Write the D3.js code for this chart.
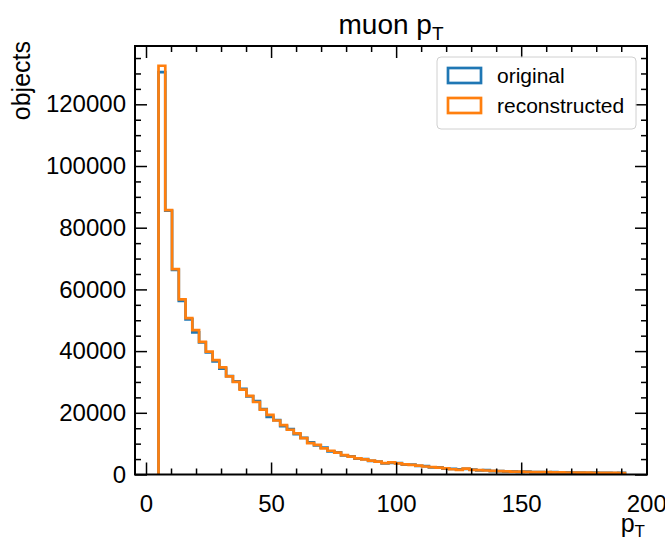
<!DOCTYPE html>
<html>
<head>
<meta charset="utf-8">
<script src="https://cdn.jsdelivr.net/npm/d3@7"></script>
<style>
  body { margin: 0; background: #fff; }
  svg text { font-family: "Liberation Sans", Arial, sans-serif; fill: #000; }
</style>
</head>
<body>
<div id="chart"></div>
<script>
// histogram bins (pT), first edge and width
const bin_start = 5,
  bin_width = 2.703;

// counts per bin
const original = [130400, 85500, 66300, 56300, 50300, 46100, 42800, 39600, 36700, 34300,
  31900, 30200, 27800, 25300, 23800, 21200, 18700, 17600, 15700, 14700,
  13100, 11900, 10400, 9400, 8700, 7500, 7200, 6200, 5900, 5100,
  5000, 4400, 4200, 3600, 3800, 3700, 3200, 3200, 2800, 2700,
  2300, 2300, 1900, 1800, 1700, 1800, 1600, 1300, 1400, 1100,
  1100, 950, 1000, 850, 900, 750, 800, 700, 750, 650,
  700, 600, 650, 550, 600, 500, 550, 450, 500];

const reconstructed = [132500, 85700, 66600, 56800, 50700, 46800, 43000, 39800, 37100, 34700,
  31800, 30000, 27500, 25500, 23500, 21000, 19300, 17500, 16000, 14500,
  13300, 11800, 10200, 9600, 8500, 7700, 7100, 6300, 5800, 5250,
  4900, 4500, 4150, 3700, 3900, 3600, 3300, 3100, 2900, 2600,
  2400, 2200, 2000, 1700, 1500, 1900, 1500, 1400, 1300, 1200,
  1100, 1000, 950, 900, 850, 800, 800, 750, 700, 700,
  650, 650, 600, 600, 550, 550, 500, 500, 450];

const series_names = ["original", "reconstructed"];
const series_colors = ["#1f77b4", "#ff7f0e"];
const x_ticks = [0, 50, 100, 150, 200];
const y_ticks = [0, 20000, 40000, 60000, 80000, 100000, 120000];

const margin = {top: 46, right: 18, bottom: 67.5, left: 135},
  width = 665 - margin.left - margin.right,
  height = 542 - margin.top - margin.bottom;

var svg = d3.select("#chart")
  .append("svg")
    .attr("width", 665)
    .attr("height", 542)
  .append("g")
    .attr("transform", "translate(" + margin.left + "," + margin.top + ")");

var x = d3.scaleLinear()
  .domain([-4.4, 200.3])
  .range([0, width]);

var y = d3.scaleLinear()
  .domain([0, 138900])
  .range([height, 0]);

// step outline like histtype='step'
var step_points = function(counts) {
  var pts = [[bin_start, 0]];
  counts.forEach(function(c, i) {
    pts.push([bin_start + i * bin_width, c]);
    pts.push([bin_start + (i + 1) * bin_width, c]);
  });
  pts.push([bin_start + counts.length * bin_width, 0]);
  return pts;
};

var line = d3.line()
  .x(function(d) { return x(d[0]); })
  .y(function(d) { return y(d[1]); });

[original, reconstructed].forEach(function(counts, i) {
  svg.append("path")
    .attr("d", line(step_points(counts)))
    .attr("fill", "none")
    .attr("stroke", series_colors[i])
    .attr("stroke-width", 2.7)
    .attr("stroke-linejoin", "miter");
});

// minor tick positions
var x_minor = d3.range(0, 201, 10).filter(function(v) { return v % 50 != 0; });
var y_minor = d3.range(0, 138001, 5000).filter(function(v) { return v % 20000 != 0; });

var style_axis = function(g, font) {
  g.select(".domain").remove();
  g.selectAll("line").attr("stroke", "#000").attr("stroke-width", 1.5);
  g.selectAll("text").style("font-size", font + "px").attr("fill", "#000");
};

// bottom
svg.append("g")
  .attr("transform", "translate(0," + height + ")")
  .call(d3.axisBottom(x).tickValues(x_ticks).tickSize(-12).tickPadding(20).tickFormat(d3.format("d")))
  .call(style_axis, 24);
svg.append("g")
  .attr("transform", "translate(0," + height + ")")
  .call(d3.axisBottom(x).tickValues(x_minor).tickSize(-6).tickFormat(""))
  .call(style_axis, 24);
// top
svg.append("g")
  .call(d3.axisTop(x).tickValues(x_ticks).tickSize(-12).tickFormat(""))
  .call(style_axis, 24);
svg.append("g")
  .call(d3.axisTop(x).tickValues(x_minor).tickSize(-6).tickFormat(""))
  .call(style_axis, 24);
// left
svg.append("g")
  .call(d3.axisLeft(y).tickValues(y_ticks).tickSize(-12).tickPadding(9).tickFormat(d3.format("d")))
  .call(style_axis, 24);
svg.append("g")
  .call(d3.axisLeft(y).tickValues(y_minor).tickSize(-6).tickFormat(""))
  .call(style_axis, 24);
// right
svg.append("g")
  .attr("transform", "translate(" + width + ",0)")
  .call(d3.axisRight(y).tickValues(y_ticks).tickSize(-12).tickFormat(""))
  .call(style_axis, 24);
svg.append("g")
  .attr("transform", "translate(" + width + ",0)")
  .call(d3.axisRight(y).tickValues(y_minor).tickSize(-6).tickFormat(""))
  .call(style_axis, 24);

// frame
svg.append("rect")
  .attr("width", width)
  .attr("height", height)
  .attr("fill", "none")
  .attr("stroke", "#000")
  .attr("stroke-width", 2);

// title
var title = svg.append("text")
  .attr("x", width / 2)
  .attr("y", -12)
  .attr("text-anchor", "middle")
  .style("font-size", "28px");
title.append("tspan").text("muon p");
title.append("tspan").attr("dy", 6).style("font-size", "19px").text("T");

// axis labels
svg.append("text")
  .attr("transform", "translate(-105,-5) rotate(-90)")
  .attr("text-anchor", "end")
  .style("font-size", "25px")
  .text("objects");

var xl = svg.append("text")
  .attr("x", width - 2)
  .attr("y", height + 57)
  .attr("text-anchor", "end")
  .style("font-size", "25px");
xl.append("tspan").text("p");
xl.append("tspan").attr("dy", 5).style("font-size", "17px").text("T");

// legend
var legend = svg.append("g")
  .attr("transform", "translate(" + (437 - margin.left) + "," + (57 - margin.top) + ")");
legend.append("rect")
  .attr("width", 199)
  .attr("height", 72)
  .attr("rx", 4)
  .attr("fill", "#fff")
  .attr("fill-opacity", 0.8)
  .attr("stroke", "#d0d0d0")
  .attr("stroke-width", 1);
series_names.forEach(function(name, i) {
  legend.append("rect")
    .attr("x", 11)
    .attr("y", 11 + i * 30)
    .attr("width", 33)
    .attr("height", 15)
    .attr("fill", "none")
    .attr("stroke", series_colors[i])
    .attr("stroke-width", 2.7);
  legend.append("text")
    .attr("x", 60)
    .attr("y", 26 + i * 30)
    .style("font-size", "21px")
    .text(name);
});
</script>
</body>
</html>
